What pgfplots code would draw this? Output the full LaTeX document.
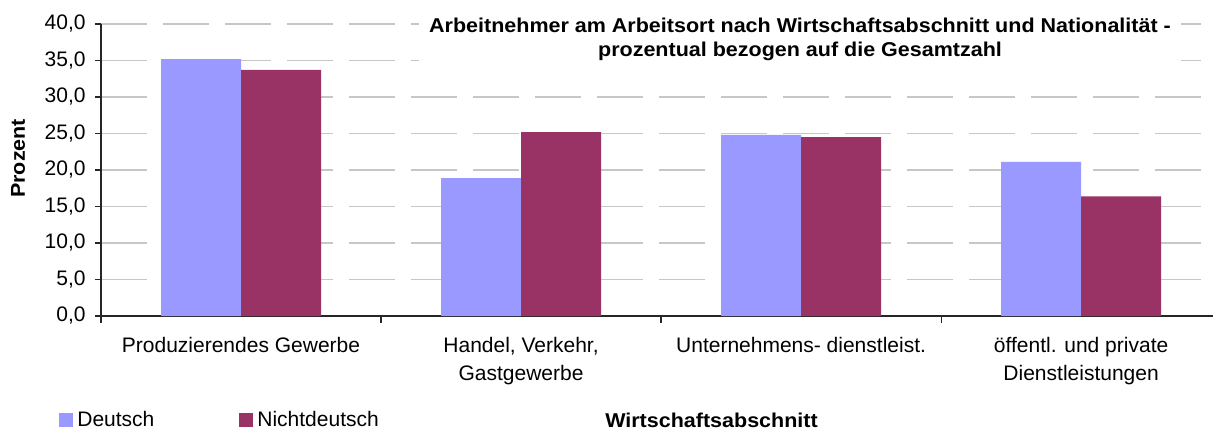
\documentclass[border=0pt]{standalone}
\usepackage{fontspec}
\setmainfont{Liberation Sans}[BoldFeatures={FakeStretch=1.075}]
\usepackage{pgfplots}
\pgfplotsset{compat=1.18}
\definecolor{deu}{HTML}{9999FF}
\definecolor{ndeu}{HTML}{993366}
\begin{document}
\begin{tikzpicture}[font=\fontsize{10.5}{14}\selectfont]
\begin{axis}[
  at={(0,0)}, anchor=south west,
  scale only axis, width=556pt, height=146pt,
  clip=false,
  ybar=0pt, bar width=40pt,
  xmin=-0.5, xmax=3.471, ymin=0, ymax=40,
  axis lines*=left,
  axis line style={black!85, line width=0.6pt},
  tick align=outside,
  ytick={0,5,...,40},
  major tick length=3pt,
  minor tick length=3.5pt,
  tick style={black!85, line width=0.6pt},
  yticklabel style={xshift=-1.2pt, /pgf/number format/fixed, /pgf/number format/fixed zerofill, /pgf/number format/precision=1, /pgf/number format/use comma, /pgf/number format/assume math mode=true},
  xtick={0,1,2,3},
  xticklabels={Produzierendes Gewerbe, {Handel, Verkehr,\\Gastgewerbe}, Unternehmens- dienstleist., {öffentl. und private\\Dienstleistungen}},
  xticklabel style={align=center, yshift=-4pt},
  major x tick style={draw=none},
  minor xtick={-0.5,0.5,1.5,2.5},
  ymajorgrids,
  grid style={black!22, line width=0.75pt, dash pattern=on 23pt off 8pt},
  ylabel={Prozent},
  ylabel style={font=\bfseries, at={(axis description cs:-0.0746,0.54)}, anchor=center},
  xlabel={Wirtschaftsabschnitt},
  xlabel style={font=\bfseries, at={(axis description cs:0.549,-0.356)}, anchor=center},
  legend style={at={(axis description cs:-0.0432,-0.356)}, anchor=west, draw=none, fill=none, legend columns=2, /tikz/every even column/.append style={column sep=40.5pt}},
  legend image code/.code={\fill[#1] (0pt,-3.5pt) rectangle (7pt,3.5pt);},
]
\addplot[fill=deu, draw=none] coordinates {(0,35.2) (1,18.9) (2,24.8) (3,21.1)};
\addplot[fill=ndeu, draw=none] coordinates {(0,33.7) (1,25.2) (2,24.5) (3,16.4)};
\legend{Deutsch, Nichtdeutsch}
\node[fill=white, align=center, font=\bfseries, inner xsep=5pt, inner ysep=2pt] at (rel axis cs:0.6286,0.946) {Arbeitnehmer am Arbeitsort nach Wirtschaftsabschnitt und Nationalität -\\prozentual bezogen auf die Gesamtzahl};
\end{axis}
\pgfresetboundingbox
\path[use as bounding box] (-50.5pt,-56.5pt) rectangle (556pt,158pt);
\end{tikzpicture}
\end{document}
